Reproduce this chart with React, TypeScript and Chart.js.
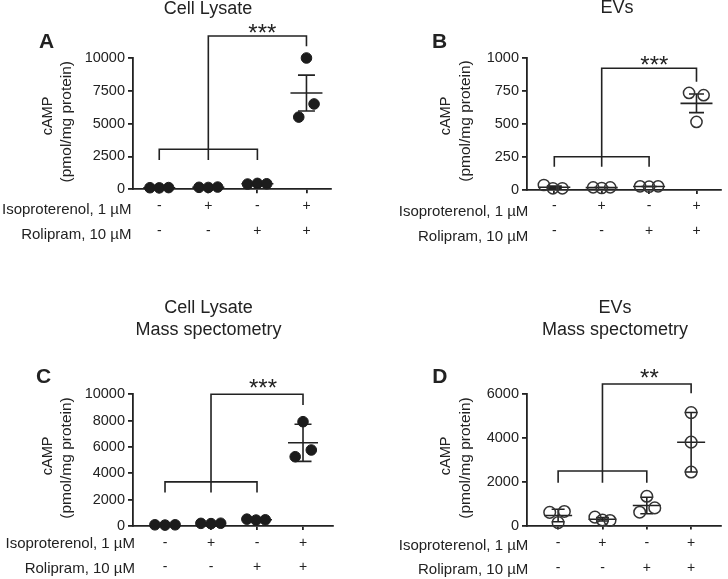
import React, { useEffect, useRef } from "react";
import { Chart, registerables } from "chart.js";

Chart.register(...registerables);

// ---------------- data ----------------
const GROUPS = [1, 2, 3, 4];
const ISOPROTERENOL = ["-", "+", "-", "+"];
const ROLIPRAM = ["-", "-", "+", "+"];
const ROW_LABELS = ["Isoproterenol, 1 µM", "Rolipram, 10 µM"];
const Y_TITLE = ["cAMP", "(pmol/mg protein)"];

const A_TITLE = ["Cell Lysate"];
const A_VALUES = [
  [120, 110, 130],
  [150, 140, 170],
  [400, 450, 420],
  [10000, 6500, 5500],
];
const A_TICKS = [0, 2500, 5000, 7500, 10000];
const A_STARS = "***";
// bracket levels (data units): lower bar, lower drop, upper bar, upper drop
const A_BRACKET = [3050, 2230, 11675, 10900];

const B_TITLE = ["EVs"];
const B_VALUES = [
  [38, 13, 13],
  [20, 15, 20],
  [28, 25, 28],
  [737, 720, 517],
];
const B_TICKS = [0, 250, 500, 750, 1000];
const B_STARS = "***";
const B_BRACKET = [253, 177, 924, 822];

const C_TITLE = ["Cell Lysate", "Mass spectometry"];
const C_VALUES = [
  [90, 70, 90],
  [200, 180, 210],
  [520, 450, 470],
  [7920, 5770, 5260],
];
const C_TICKS = [0, 2000, 4000, 6000, 8000, 10000];
const C_STARS = "***";
const C_BRACKET = [3350, 2550, 10000, 9190];

const D_TITLE = ["EVs", "Mass spectometry"];
const D_VALUES = [
  [600, 640, 130],
  [380, 250, 230],
  [1333, 606, 803],
  [5152, 3803, 2439],
];
const D_TICKS = [0, 2000, 4000, 6000];
const D_STARS = "**";
const D_BRACKET = [2490, 1950, 6456, 6032];

// ---------------- style ----------------
const FONT = "'Liberation Sans', Arial, Helvetica, sans-serif";
const INK = "#222222";
const AXIS_W = 1.8;
const LINE_W = 1.6;

const PANELS = [
  {
    letter: "A", left: 0, top: 0, w: 364, h: 290,
    title: A_TITLE, titleX: 208, titleY: [13.5], letterPos: [39, 48],
    values: A_VALUES, ticks: A_TICKS, bracket: A_BRACKET, stars: A_STARS, err: "sem", filled: true,
    padTop: 58, padRight: 33, yW: 133, xH: 100.7, xMin: 0.465, xMax: 4.5, tickPad: 0, lineH: 25,
    rowY: [210, 235], rowX: 131.5, yTitle: [[48.3, 116], [66.7, 121.7]],
    starX: 3.1, starGap: 9, meanHalf: 16, capHalf: 8.5, radius: 5.3,
    jitter: [[-0.19, 0, 0.19], [-0.19, 0, 0.19], [-0.2, 0, 0.19], [0, 0.155, -0.157]],
  },
  {
    letter: "B", left: 364, top: 0, w: 364, h: 290,
    title: B_TITLE, titleX: 253, titleY: [13.3], letterPos: [68, 48.3],
    values: B_VALUES, ticks: B_TICKS, bracket: B_BRACKET, stars: B_STARS, err: "sem", filled: false,
    padTop: 58.3, padRight: 0, yW: 163, xH: 100, xMin: 0.424, xMax: 4.515, tickPad: 0, lineH: 25,
    rowY: [211.5, 236.5], rowX: 164.3, yTitle: [[81.7, 116], [101.7, 121]],
    starX: 3.11, starGap: 9, meanHalf: 16, capHalf: 7.5, radius: 5.6,
    jitter: [[-0.22, -0.03, 0.17], [-0.18, 0, 0.18], [-0.19, 0, 0.19], [-0.157, 0.15, 0]],
  },
  {
    letter: "C", left: 0, top: 290, w: 364, h: 289,
    title: C_TITLE, titleX: 208.5, titleY: [22.7, 45], letterPos: [36, 93.3],
    values: C_VALUES, ticks: C_TICKS, bracket: C_BRACKET, stars: C_STARS, err: "sd", filled: true,
    padTop: 104.3, padRight: 31, yW: 133, xH: 53, xMin: 0.304, xMax: 4.652, tickPad: 1.3, lineH: 24,
    rowY: [254, 278.5], rowX: 135, yTitle: [[48.3, 165.8], [66.7, 168]],
    starX: 3.13, starGap: 12, meanHalf: 15, capHalf: 8.5, radius: 5.3,
    jitter: [[-0.22, 0, 0.22], [-0.22, 0, 0.21], [-0.22, -0.02, 0.18], [0, 0.18, -0.17]],
  },
  {
    letter: "D", left: 364, top: 290, w: 364, h: 289,
    title: D_TITLE, titleX: 251, titleY: [22.7, 45], letterPos: [68.3, 92.7],
    values: D_VALUES, ticks: D_TICKS, bracket: D_BRACKET, stars: D_STARS, err: "sd", filled: false,
    padTop: 104, padRight: 0, yW: 163, xH: 53.5, xMin: 0.298, xMax: 4.667, tickPad: 1.5, lineH: 25,
    rowY: [256, 280], rowX: 164.3, yTitle: [[81.7, 165.8], [101.7, 168]],
    starX: 3.06, starGap: 12, meanHalf: 14, capHalf: 6.5, radius: 5.8,
    jitter: [[-0.19, 0.14, 0], [-0.17, 0, 0.17], [0, -0.16, 0.18], [0, 0, 0]],
  },
];

function stats(vals: number[], kind: string) {
  const n = vals.length;
  const m = vals.reduce((a, b) => a + b, 0) / n;
  const sd = Math.sqrt(vals.reduce((a, b) => a + (b - m) * (b - m), 0) / (n - 1));
  return { m, e: kind === "sem" ? sd / Math.sqrt(n) : sd };
}

function makeAnnot(p: any) {
  return {
    id: "annot" + p.letter,
    beforeDatasetsDraw(chart: any) {
      const { ctx } = chart;
      const x = chart.scales.x;
      const y = chart.scales.y;
      ctx.save();
      ctx.strokeStyle = INK;
      ctx.lineWidth = LINE_W;
      p.values.forEach((vals: number[], i: number) => {
        const { m, e } = stats(vals, p.err);
        const cx = x.getPixelForValue(GROUPS[i]);
        const ym = y.getPixelForValue(m);
        const yt = y.getPixelForValue(m + e);
        const yb = y.getPixelForValue(m - e);
        ctx.beginPath();
        ctx.moveTo(cx - p.meanHalf, ym);
        ctx.lineTo(cx + p.meanHalf, ym);
        ctx.moveTo(cx, yt);
        ctx.lineTo(cx, yb);
        ctx.moveTo(cx - p.capHalf, yt);
        ctx.lineTo(cx + p.capHalf, yt);
        ctx.moveTo(cx - p.capHalf, yb);
        ctx.lineTo(cx + p.capHalf, yb);
        ctx.stroke();
      });
      ctx.restore();
    },
    afterDraw(chart: any) {
      const { ctx } = chart;
      const x = chart.scales.x;
      const y = chart.scales.y;
      ctx.save();
      // brackets
      const [low, lowDrop, high, highDrop] = p.bracket;
      const yl = y.getPixelForValue(low);
      const yld = y.getPixelForValue(lowDrop);
      const yh = y.getPixelForValue(high);
      const yhd = y.getPixelForValue(highDrop);
      const gx = (g: number) => x.getPixelForValue(g);
      ctx.strokeStyle = INK;
      ctx.lineWidth = LINE_W;
      ctx.beginPath();
      ctx.moveTo(gx(1), yld);
      ctx.lineTo(gx(1), yl);
      ctx.lineTo(gx(3), yl);
      ctx.lineTo(gx(3), yld);
      ctx.moveTo(gx(2), yld);
      ctx.lineTo(gx(2), yh);
      ctx.lineTo(gx(4), yh);
      ctx.lineTo(gx(4), yhd);
      ctx.stroke();

      ctx.fillStyle = INK;
      // stars
      ctx.font = `24px ${FONT}`;
      ctx.textAlign = "center";
      ctx.textBaseline = "alphabetic";
      ctx.fillText(p.stars, x.getPixelForValue(p.starX), yh - p.starGap + 0.575 * 24);

      // panel title
      ctx.font = `18px ${FONT}`;
      p.title.forEach((t: string, i: number) => ctx.fillText(t, p.titleX, p.titleY[i]));

      // panel letter
      ctx.font = `bold 21px ${FONT}`;
      ctx.textAlign = "left";
      ctx.fillText(p.letter, p.letterPos[0], p.letterPos[1]);

      // y axis title
      const ySizes = [14.5, 15.5];
      Y_TITLE.forEach((t, i) => {
        ctx.save();
        ctx.translate(p.yTitle[i][0], p.yTitle[i][1]);
        ctx.rotate(-Math.PI / 2);
        ctx.font = `${ySizes[i]}px ${FONT}`;
        ctx.textAlign = "center";
        ctx.textBaseline = "middle";
        ctx.fillText(t, 0, 0);
        ctx.restore();
      });

      // row labels
      ctx.font = `15px ${FONT}`;
      ctx.textAlign = "right";
      ctx.textBaseline = "middle";
      ROW_LABELS.forEach((t, i) => ctx.fillText(t, p.rowX, p.rowY[i]));
      ctx.restore();
    },
  };
}

function makeConfig(p: any): any {
  const points: { x: number; y: number }[] = [];
  p.values.forEach((vals: number[], i: number) =>
    vals.forEach((v, j) => points.push({ x: GROUPS[i] + p.jitter[i][j], y: v }))
  );
  return {
    type: "scatter",
    data: {
      datasets: [
        {
          data: points,
          pointRadius: p.radius,
          pointHoverRadius: p.radius,
          pointBackgroundColor: p.filled ? "#1c1c1c" : "rgba(0,0,0,0)",
          pointBorderColor: p.filled ? "#1c1c1c" : "#333333",
          pointBorderWidth: p.filled ? 1 : 1.5,
          clip: false,
        },
      ],
    },
    options: {
      animation: false,
      responsive: false,
      devicePixelRatio: 1,
      events: [],
      layout: { padding: { top: p.padTop, right: p.padRight, left: 0, bottom: 0 } },
      plugins: { legend: { display: false }, tooltip: { enabled: false }, title: { display: false } },
      scales: {
        x: {
          type: "linear",
          min: p.xMin,
          max: p.xMax,
          afterBuildTicks: (s: any) => {
            s.ticks = GROUPS.map((v) => ({ value: v }));
          },
          afterFit: (s: any) => {
            s.height = p.xH;
          },
          grid: { drawOnChartArea: false, drawTicks: true, tickLength: 4, color: INK, lineWidth: AXIS_W },
          border: { display: true, color: INK, width: AXIS_W },
          ticks: {
            autoSkip: false,
            maxRotation: 0,
            minRotation: 0,
            padding: p.tickPad,
            color: INK,
            font: { family: FONT, size: 14, lineHeight: `${p.lineH}px` },
            callback: (_v: any, i: number) => [ISOPROTERENOL[i], ROLIPRAM[i]],
          },
        },
        y: {
          type: "linear",
          min: 0,
          max: p.ticks[p.ticks.length - 1],
          afterBuildTicks: (s: any) => {
            s.ticks = p.ticks.map((v: number) => ({ value: v }));
          },
          afterFit: (s: any) => {
            s.width = p.yW;
          },
          grid: { drawOnChartArea: false, drawTicks: true, tickLength: 5, color: INK, lineWidth: AXIS_W },
          border: { display: true, color: INK, width: AXIS_W },
          ticks: {
            padding: 3,
            color: INK,
            font: { family: FONT, size: 14.5 },
            callback: (v: any) => String(v),
          },
        },
      },
    },
    plugins: [makeAnnot(p)],
  };
}

function Panel({ p }: { p: any }) {
  const ref = useRef<HTMLCanvasElement | null>(null);
  useEffect(() => {
    const chart = new Chart(ref.current as HTMLCanvasElement, makeConfig(p));
    return () => chart.destroy();
  }, [p]);
  return (
    <canvas
      ref={ref}
      width={p.w}
      height={p.h}
      style={{ position: "absolute", left: p.left, top: p.top, width: p.w, height: p.h }}
    />
  );
}

export default function App() {
  return (
    <div style={{ position: "absolute", left: 0, top: 0, width: 728, height: 579, background: "#ffffff" }}>
      {PANELS.map((p) => (
        <Panel key={p.letter} p={p} />
      ))}
    </div>
  );
}
